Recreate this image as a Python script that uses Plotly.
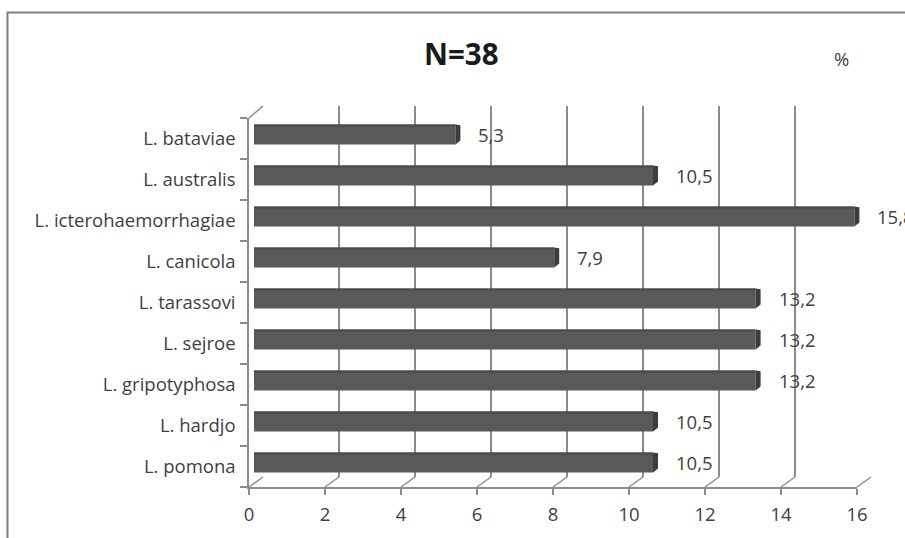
import plotly.graph_objects as go

# Leptospira serovars (bottom to top) and share of positive samples, %
serovars = ["L. pomona", "L. hardjo", "L. gripotyphosa", "L. sejroe", "L. tarassovi",
            "L. canicola", "L. icterohaemorrhagiae", "L. australis", "L. bataviae"]
percent = [10.5, 10.5, 13.2, 13.2, 13.2, 7.9, 15.8, 10.5, 5.3]
x_ticks = [0, 2, 4, 6, 8, 10, 12, 14, 16]
title_text = "N=38"
unit_text = "%"

W, H = 905, 538
X_MAX = 16
PX_PER_UNIT = 38.0
FONT = "Open Sans"
GRID = "#8c8c8c"
TEXT = "#404040"
BAR = "#595959"
BAR_SIDE = "#3c3c3c"
BAR_TOP = "#4a4a4a"


def xdom(left_px):
    return [left_px / W, (left_px + X_MAX * PX_PER_UNIT) / W]


def ydom(top_px, bottom_px):
    return [1 - bottom_px / H, 1 - top_px / H]


def px(x):
    return x / W


def py(y):
    return 1 - y / H


n = len(serovars)
pos = list(range(n))
yrange = [-0.5, n - 0.5]

fig = go.Figure()

# empty traces so the back-wall and front-axis subplots get drawn
fig.add_trace(go.Scatter(x=[None], y=[None], xaxis="x", yaxis="y",
                         mode="markers", hoverinfo="skip"))
fig.add_trace(go.Scatter(x=[None], y=[None], xaxis="x2", yaxis="y2",
                         mode="markers", hoverinfo="skip"))

# bars live on the middle plane of the 3-D box
fig.add_trace(go.Bar(
    x=percent, y=pos, orientation="h", width=0.49,
    marker=dict(color=BAR, line=dict(width=0)),
    xaxis="x3", yaxis="y3", hoverinfo="skip",
))

# end faces and top edges of the bars, built from the same values
half = 0.245
dx = 5 / PX_PER_UNIT
cut = 4 / 41.0
side_x, side_y, top_x, top_y = [], [], [], []
for i, v in zip(pos, percent):
    side_x += [v, v + dx, v + dx, v, v, None]
    side_y += [i + half, i + half - 0.02, i - half + cut, i - half, i + half, None]
    top_x += [0, v, v, 0, 0, None]
    top_y += [i + half, i + half, i + half - 0.05, i + half - 0.05, i + half, None]

fig.add_trace(go.Scatter(x=side_x, y=side_y, mode="lines", fill="toself",
                         fillcolor=BAR_SIDE, line=dict(width=0),
                         xaxis="x3", yaxis="y3", hoverinfo="skip"))
fig.add_trace(go.Scatter(x=top_x, y=top_y, mode="lines", fill="toself",
                         fillcolor=BAR_TOP, line=dict(width=0),
                         xaxis="x3", yaxis="y3", hoverinfo="skip"))

annotations = []
for i, v in zip(pos, percent):
    annotations.append(dict(
        x=v, y=i, xref="x3", yref="y3", text=f"{v:.1f}".replace(".", ","),
        showarrow=False, xanchor="left", yanchor="middle", xshift=21,
        font=dict(family=FONT, size=18.5, color=TEXT),
    ))

annotations.append(dict(x=px(461), y=py(53), xref="paper", yref="paper",
                        text=f"<b>{title_text}</b>", showarrow=False,
                        xanchor="center", yanchor="middle",
                        font=dict(family=FONT, size=29.5, color="#1a1a1a")))
annotations.append(dict(x=px(841), y=py(58), xref="paper", yref="paper",
                        text=unit_text, showarrow=False,
                        xanchor="center", yanchor="middle",
                        font=dict(family=FONT, size=18.5, color=TEXT)))

# floor edges joining the back wall to the front axis
shapes = []
for t in x_ticks:
    shapes.append(dict(type="line", xref="paper", yref="paper",
                       x0=px(263 + t * PX_PER_UNIT), y0=py(477),
                       x1=px(249 + t * PX_PER_UNIT), y1=py(487),
                       line=dict(color=GRID, width=1.5), layer="below"))
shapes.append(dict(type="line", xref="paper", yref="paper",
                   x0=px(263), y0=py(106), x1=px(249), y1=py(118),
                   line=dict(color=GRID, width=1.5), layer="below"))
shapes.append(dict(type="line", xref="paper", yref="paper",
                   x0=px(243), y0=py(487), x1=px(249), y1=py(487),
                   line=dict(color=GRID, width=1.5), layer="below"))
# chart-area frame
shapes.append(dict(type="rect", xref="paper", yref="paper",
                   x0=px(7.5), y0=py(580), x1=px(960), y1=py(12.5),
                   line=dict(color="#7f7f7f", width=2), layer="below"))

fig.update_layout(
    width=W, height=H, autosize=False,
    margin=dict(l=0, r=0, t=0, b=0, autoexpand=False),
    paper_bgcolor="white", plot_bgcolor="rgba(0,0,0,0)",
    showlegend=False, barmode="overlay",
    font=dict(family=FONT, color=TEXT),
    # back wall with the vertical gridlines
    xaxis=dict(domain=xdom(263), range=[0, X_MAX], anchor="y",
               tickmode="array", tickvals=x_ticks, showticklabels=False,
               ticks="", showgrid=True, gridcolor=GRID, gridwidth=1.5,
               zeroline=False, showline=False, fixedrange=True),
    yaxis=dict(domain=ydom(106, 477), range=yrange, anchor="x",
               showgrid=False, zeroline=False, showline=False,
               showticklabels=False, ticks="", fixedrange=True),
    # front value axis and category axis
    xaxis2=dict(domain=xdom(249), range=[0, X_MAX], anchor="y2",
                tickmode="array", tickvals=x_ticks, ticks="outside",
                ticklen=6, tickwidth=1.5, tickcolor=GRID,
                showline=True, linecolor=GRID, linewidth=1.5,
                showgrid=False, zeroline=False,
                tickfont=dict(family=FONT, size=18.5, color=TEXT),
                ticklabelstandoff=4, fixedrange=True),
    yaxis2=dict(domain=ydom(118, 487), range=yrange, anchor="x2",
                tickmode="array", tickvals=pos, ticktext=serovars,
                ticks="", showline=True, linecolor=GRID, linewidth=1.5,
                showgrid=False, zeroline=False,
                minor=dict(tickmode="array", tickvals=[p - 0.5 for p in pos] + [n - 0.5],
                           ticks="outside", ticklen=7, tickwidth=1.5,
                           tickcolor=GRID, showgrid=False),
                tickfont=dict(family=FONT, size=18.5, color=TEXT),
                ticklabelstandoff=8, fixedrange=True),
    # bar plane
    xaxis3=dict(domain=xdom(254), range=[0, X_MAX], anchor="y3",
                visible=False, fixedrange=True),
    yaxis3=dict(domain=ydom(114, 483), range=yrange, anchor="x3",
                visible=False, fixedrange=True),
    annotations=annotations,
    shapes=shapes,
)

fig.write_html("out.html")
